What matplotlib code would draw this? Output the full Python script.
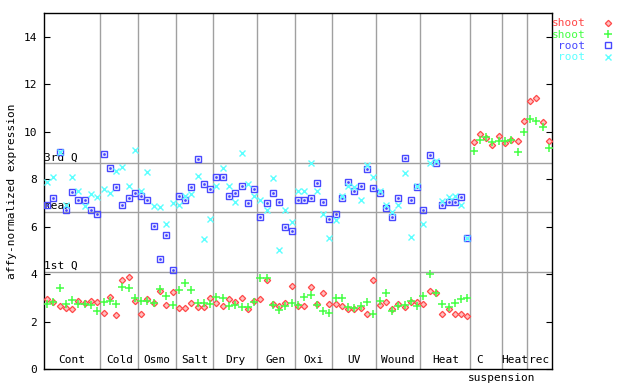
import numpy as np
import matplotlib.pyplot as plt

plt.rcParams['font.family'] = ['DejaVu Sans Mono']
plt.rcParams['font.size'] = 8

groups = ['Cont', 'Cold', 'Osmo', 'Salt', 'Dry', 'Gen', 'Oxi', 'UV',
          'Wound', 'Heat', 'C', 'Heat', 'rec']
group_sizes = [9, 6, 6, 6, 7, 6, 6, 7, 7, 8, 5, 4, 4]

# quantile reference lines (3rd Q, mean, 1st Q)
ref_names = ['3rd Q', 'mean', '1st Q']
ref_values = [8.66, 6.61, 4.07]

nan = np.nan
shoot_red = [2.95, 2.82, 2.65, 2.55, 2.51, 2.86, 2.80, 2.86, 2.82,
             2.34, 3.04, 2.26, 3.75, 3.86, 2.86,
             2.30, 2.93, 2.77, 3.30, 2.68, 3.26,
             2.58, 2.55, 2.77, 2.62, 2.63, 2.98,
             2.78, 2.65, 2.93, 2.82, 2.98, 2.53, 2.86,
             2.95, 3.75, 2.74, 2.65, 2.78, 3.49,
             2.65, 2.65, 3.45, 2.74, 3.20, 2.74,
             2.72, 2.64, 2.51, 2.51, 2.55, 2.30, 3.75,
             2.68, 2.82, 2.51, 2.72, 2.60, 2.82, 2.82,
             2.72, 3.27, 3.19, 2.30, 2.51, 2.30, 2.30, 2.22,
             9.55, 9.89, 9.75, 9.42, 9.81,
             9.54, 9.63, 9.59, 10.43,
             11.31, 11.40, 10.39, 9.59]
shoot_green = [2.72, 2.82, 3.41, 2.72, 2.91, 2.72, 2.72, 2.68, 2.44,
               2.82, 2.86, 2.75, 3.44, 3.40, 2.99,
               2.86, 2.86, 2.77, 3.35, 3.06, 2.68,
               3.33, 3.61, 3.33, 2.77, 2.78, 2.74,
               3.03, 2.98, 2.65, 2.69, 2.61, 2.61, 2.81,
               3.83, 3.83, 2.69, 2.47, 2.65, 2.78,
               2.68, 3.03, 3.12, 2.68, 2.43, 2.34,
               2.98, 2.98, 2.62, 2.55, 2.64, 2.81, 2.30,
               2.85, 3.19, 2.44, 2.64, 2.68, 2.85, 2.64,
               3.06, 3.99, 3.19, 2.72, 2.60, 2.77, 2.93, 2.98,
               9.18, 9.63, 9.78, 9.56, 9.59,
               9.59, 9.63, 9.14, 9.97,
               10.55, 10.47, 10.18, 9.33]
root_blue = [6.90, 7.19, 9.15, 6.68, 7.44, 7.14, 7.14, 6.72, 6.55,
             9.04, 8.49, 7.65, 6.93, 7.19, 7.40,
             7.31, 7.14, 6.01, 4.62, 5.63, 4.17,
             7.27, 7.10, 7.65, 8.84, 7.79, 7.57,
             8.07, 8.07, 7.27, 7.40, 7.69, 6.98, 7.57,
             6.39, 6.98, 7.40, 7.02, 5.97, 5.80,
             7.10, 7.10, 7.19, 7.82, 7.02, 6.30,
             6.55, 7.19, 7.90, 7.52, 7.69, 8.41, 7.61,
             7.40, 6.77, 6.39, 7.19, 8.87, 7.14, 7.66,
             6.72, 9.00, 8.70, 6.89, 7.02, 7.02, 7.23, 5.50,
             nan, nan, nan, nan, nan,
             nan, nan, nan, nan,
             nan, nan, nan, nan]
root_cyan = [7.90, 8.07, 9.15, 6.90, 8.07, 7.48, 6.85, 7.36, 7.23,
             7.57, 7.40, 8.35, 8.53, 7.69, 9.21,
             7.48, 8.32, 6.85, 6.81, 6.13, 6.98,
             6.93, 7.31, 7.36, 8.15, 5.46, 6.30,
             7.73, 8.45, 7.69, 7.02, 9.12, 7.78, 7.27,
             7.14, 6.72, 8.03, 5.01, 6.72, 6.18,
             7.48, 7.48, 8.66, 7.52, 6.51, 5.50,
             6.26, 7.27, 7.69, 7.65, 7.14, 8.58, 8.11,
             7.52, 6.93, 6.60, 6.89, 8.24, 5.55, 7.70,
             6.13, 8.70, 8.78, 7.06, 7.23, 7.31, 6.93, 5.50,
             nan, nan, nan, nan, nan,
             nan, nan, nan, nan,
             nan, nan, nan, nan]

red = '#ff4848'
green = '#44ff44'
blue = '#4848ff'
cyan = '#5cffff'
grey = '#a0a0a0'

n = len(shoot_red)
x = np.arange(1, n + 1)
bounds = np.cumsum(group_sizes) + 0.5
starts = np.concatenate([[0.5], bounds[:-1]])
centers = (starts + bounds) / 2

fig = plt.figure(figsize=(6.4, 3.84), dpi=100)
ax = fig.add_axes([44 / 640, 15 / 384, 508 / 640, 356 / 384])

for b in bounds[:-1]:
    ax.axvline(b, color=grey, lw=1, zorder=1)
for name, v in zip(ref_names, ref_values):
    ax.axhline(v, color=grey, lw=1, zorder=1)
    ax.text(0.55, v + 0.05, name, ha='left', va='bottom', zorder=2)

h_red, = ax.plot(x, shoot_red, ls='none', marker='D', ms=3.2, mfc='#ffc0c0',
                 mec=red, mew=0.9, color=red, zorder=3)
h_green, = ax.plot(x, shoot_green, ls='none', marker='+', ms=5.5, mew=1.1,
                   color=green, zorder=4)
h_blue, = ax.plot(x, root_blue, ls='none', marker='s', ms=4.2, mfc='none',
                  mec=blue, mew=1.0, color=blue, zorder=5)
ax.plot(x, root_blue, ls='none', marker='s', ms=0.9, color=blue, zorder=5)
h_cyan, = ax.plot(x, root_cyan, ls='none', marker='x', ms=4.0, mew=1.0,
                  color=cyan, zorder=6)

for name, c in zip(groups, centers):
    if name == 'C':
        c = c - 1
    ax.text(c, 0.15, name, ha='center', va='bottom')
ax.text(bounds[10], -0.18, 'suspension', ha='center', va='top', clip_on=False)

ax.set_xlim(0.5, n + 0.5)
ax.set_ylim(0, 15)
ax.set_xticks([])
ax.set_yticks(range(0, 15, 2))
ax.tick_params(axis='y', direction='in', length=4, right=True, pad=5)
ax.set_ylabel('affy-normalized expression', labelpad=5)
for sp in ax.spines.values():
    sp.set_linewidth(1)

ax.legend(handles=[h_red, h_green, h_blue, h_cyan],
          labels=['shoot', 'shoot', 'root', 'root'],
          loc='upper left', bbox_to_anchor=(0.848, 0.975),
          bbox_transform=fig.transFigure, frameon=False,
          markerfirst=False, labelcolor='linecolor',
          handlelength=1.5, handletextpad=1.3, labelspacing=0.12,
          borderpad=0.3)

fig.savefig('out.png', dpi=100)
